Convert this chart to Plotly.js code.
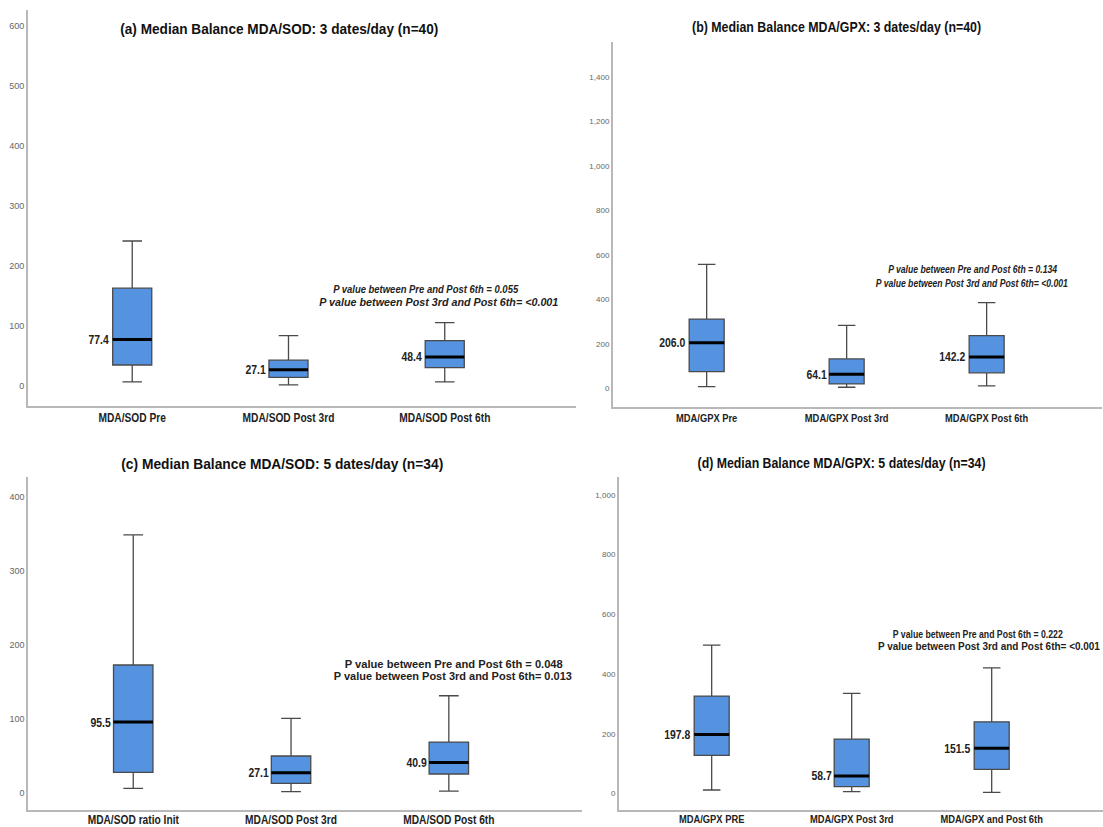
<!DOCTYPE html>
<html>
<head>
<meta charset="utf-8">
<script src="https://cdn.plot.ly/plotly-3.0.1.min.js"></script>
<style>html,body{margin:0;padding:0;background:#fff;}#chart{width:1103px;height:827px;}</style>
</head>
<body>
<div id="chart"></div>
<script>
// ---------- Data ----------
// (a) MDA/SOD, 3 dates/day (n=40)
const catsA = ['MDA/SOD Pre', 'MDA/SOD Post 3rd', 'MDA/SOD Post 6th'];
const lowA  = [7, 2, 7];
const q1A   = [35, 14.5, 30.5];
const medA  = [77.4, 27.1, 48.4];
const q3A   = [163, 43, 75.5];
const highA = [241.7, 84, 105.5];
const ticksA = [0, 100, 200, 300, 400, 500, 600];

// (b) MDA/GPX, 3 dates/day (n=40)
const catsB = ['MDA/GPX Pre', 'MDA/GPX Post 3rd', 'MDA/GPX Post 6th'];
const lowB  = [8.5, 6, 12];
const q1B   = [76, 21, 71];
const medB  = [206.0, 64.1, 142.2];
const q3B   = [312, 133, 237.5];
const highB = [558, 284, 386];
const ticksB = [0, 200, 400, 600, 800, 1000, 1200, 1400];

// (c) MDA/SOD, 5 dates/day (n=34)
const catsC = ['MDA/SOD ratio Init', 'MDA/SOD Post 3rd', 'MDA/SOD Post 6th'];
const lowC  = [6, 1.5, 2.4];
const q1C   = [27.7, 12.8, 25.4];
const medC  = [95.5, 27.1, 40.9];
const q3C   = [172.5, 49.7, 68.5];
const highC = [348, 100.5, 131];
const ticksC = [0, 100, 200, 300, 400];

// (d) MDA/GPX, 5 dates/day (n=34)
const catsD = ['MDA/GPX PRE', 'MDA/GPX Post 3rd', 'MDA/GPX and Post 6th'];
const lowD  = [11.7, 6, 4];
const q1D   = [127.7, 23, 81];
const medD  = [197.8, 58.7, 151.5];
const q3D   = [326, 182, 240];
const highD = [496.7, 335, 420.7];
const ticksD = [0, 200, 400, 600, 800, 1000];

const titles = [
  '(a) Median Balance MDA/SOD: 3 dates/day (n=40)',
  '(b) Median Balance MDA/GPX: 3 dates/day (n=40)',
  '(c) Median Balance MDA/SOD: 5 dates/day (n=34)',
  '(d) Median Balance MDA/GPX: 5 dates/day (n=34)'
];
const pTexts = [
  ['P value between Pre and Post 6th = 0.055', 'P value between Post 3rd and Post 6th= <0.001'],
  ['P value between Pre and Post 6th = 0.134', 'P value between Post 3rd and Post 6th= <0.001'],
  ['P value between Pre and Post 6th = 0.048', 'P value between Post 3rd and Post 6th= 0.013'],
  ['P value between Pre and Post 6th = 0.222', 'P value between Post 3rd and Post 6th= <0.001']
];

// ---------- Layout helpers ----------
const W = 1103, H = 827;
const FONT = '"Liberation Sans", Arial, sans-serif';
const px = v => v / W;
const py = v => 1 - v / H;
const BOXW = 0.25;
const FILL = '#5592e0';

const panels = [
  {cats: catsA, low: lowA, q1: q1A, med: medA, q3: q3A, high: highA, ticks: ticksA,
   xd: [28, 576], yd: [10, 406], xr: [-0.667, 2.84], yr: [-33.3, 626.7], tfs: 9, xfs: 12,
   title: [279, 29, 318, 15], p: [[425.5, 289, 185], [438.5, 301.7, 239]], italic: true, stand: 0},
  {cats: catsB, low: lowB, q1: q1B, med: medB, q3: q3B, high: highB, ticks: ticksB,
   xd: [613, 1102], yd: [42, 406.7], xr: [-0.669, 2.824], yr: [-81.3, 1556], tfs: 8, xfs: 11,
   title: [836, 26.7, 289, 14], p: [[972.5, 269, 169], [971.8, 282.7, 192]], italic: true, stand: 0},
  {cats: catsC, low: lowC, q1: q1C, med: medC, q3: q3C, high: highC, ticks: ticksC,
   xd: [28.3, 581.7], yd: [476.7, 810], xr: [-0.665, 2.842], yr: [-23.2, 426.6], tfs: 9, xfs: 12,
   title: [282, 463, 322, 15], p: [[454, 664.3, 218], [453, 675.5, 238]], italic: false, stand: -2},
  {cats: catsD, low: lowD, q1: q1D, med: medD, q3: q3D, high: highD, ticks: ticksD,
   xd: [619, 1103], yd: [477.3, 810], xr: [-0.662, 2.795], yr: [-55.2, 1058.2], tfs: 8, xfs: 11,
   title: [841, 463, 288, 14], p: [[978, 633.7, 170], [989, 646, 222]], italic: false, stand: -2}
];

const traces = [];
const layout = {
  width: W, height: H,
  margin: {l: 0, r: 0, t: 0, b: 0},
  paper_bgcolor: '#fff', plot_bgcolor: '#fff',
  showlegend: false,
  font: {family: FONT, color: '#222'},
  annotations: []
};
// per-annotation horizontal condensing (narrow-font look): {w: target width} or {f: factor}
const condense = [];

panels.forEach((p, k) => {
  const n = k === 0 ? '' : String(k + 1);
  const xa = 'x' + n, ya = 'y' + n;
  const idx = p.cats.map((c, i) => i);

  traces.push({
    type: 'box', xaxis: xa, yaxis: ya,
    x: idx, q1: p.q1, median: p.med, q3: p.q3,
    lowerfence: p.low, upperfence: p.high,
    width: BOXW, whiskerwidth: 0.5, boxpoints: false,
    fillcolor: FILL, line: {color: '#4a4a4a', width: 1.3},
    hoverinfo: 'skip'
  });

  // median bars (drawn on top, black and thicker)
  const mx = [], my = [];
  p.med.forEach((m, i) => { mx.push(i - BOXW / 2, i + BOXW / 2, null); my.push(m, m, null); });
  traces.push({
    type: 'scatter', mode: 'lines', xaxis: xa, yaxis: ya,
    x: mx, y: my, line: {color: '#000', width: 3}, hoverinfo: 'skip'
  });

  layout['xaxis' + n] = {
    domain: [px(p.xd[0]), px(p.xd[1])], range: p.xr, anchor: ya,
    tickmode: 'array', tickvals: idx, ticktext: p.cats.map(c => '<b>' + c + '</b>'),
    tickfont: {family: FONT, size: p.xfs, color: '#222'}, ticklabelstandoff: p.stand,
    showline: true, linecolor: '#b8b8b8', linewidth: 2,
    showgrid: false, zeroline: false, ticks: '', fixedrange: true
  };
  layout['yaxis' + n] = {
    domain: [py(p.yd[1]), py(p.yd[0])], range: p.yr, anchor: xa,
    tickmode: 'array', tickvals: p.ticks, ticktext: p.ticks.map(v => v.toLocaleString('en-US')),
    tickfont: {family: FONT, size: p.tfs, color: '#666'},
    showline: true, linecolor: '#b8b8b8', linewidth: 2,
    showgrid: false, zeroline: false, ticks: '', fixedrange: true
  };

  // median value labels
  p.med.forEach((m, i) => {
    layout.annotations.push({
      xref: xa, yref: ya, x: i - BOXW / 2, y: m, xanchor: 'right', yanchor: 'middle',
      text: '<b>' + m.toFixed(1) + '</b>', showarrow: false, xshift: 1.5,
      font: {family: FONT, size: 13, color: '#222'}
    });
    condense.push({f: 0.8});
  });

  // panel title
  layout.annotations.push({
    xref: 'paper', yref: 'paper', x: px(p.title[0]), y: py(p.title[1]),
    xanchor: 'center', yanchor: 'middle', showarrow: false,
    text: '<b>' + titles[k] + '</b>',
    font: {family: FONT, size: p.title[3], color: '#111'}
  });
  condense.push({w: p.title[2]});

  // p-value notes
  pTexts[k].forEach((t, j) => {
    const txt = p.italic ? '<b><i>' + t + '</i></b>' : '<b>' + t + '</b>';
    layout.annotations.push({
      xref: 'paper', yref: 'paper', x: px(p.p[j][0]), y: py(p.p[j][1]),
      xanchor: 'center', yanchor: 'middle', showarrow: false, text: txt,
      font: {family: FONT, size: 10.5, color: '#222'}
    });
    condense.push({w: p.p[j][2]});
  });
});

function squeeze(el, spec) {
  if (!el || el.getAttribute('data-sq')) return;
  const L = el.getComputedTextLength();
  if (!(L > 0)) return;
  const target = spec.w ? spec.w : L * spec.f;
  el.setAttribute('textLength', target);
  el.setAttribute('lengthAdjust', 'spacingAndGlyphs');
  el.setAttribute('data-sq', '1');
}

Plotly.newPlot('chart', traces, layout, {staticPlot: true, displayModeBar: false}).then(gd => {
  gd.querySelectorAll('g.annotation').forEach(g => {
    const i = +g.getAttribute('data-index');
    const t = g.querySelector('text.annotation-text');
    if (condense[i]) squeeze(t, condense[i]);
  });
  gd.querySelectorAll('.xtick text, .x2tick text, .x3tick text, .x4tick text')
    .forEach(t => squeeze(t, {f: 0.85}));
});
</script>
</body>
</html>
